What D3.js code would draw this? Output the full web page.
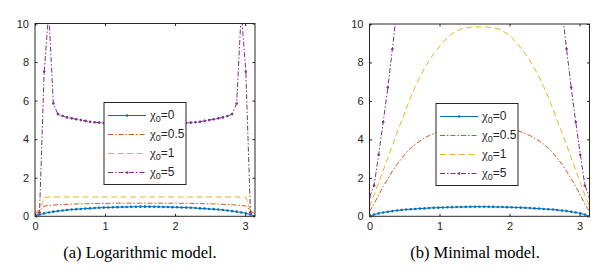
<!DOCTYPE html>
<html>
<head>
<meta charset="utf-8">
<script src="https://cdn.jsdelivr.net/npm/d3@7"></script>
<style>
  body { margin: 0; background: #fff; }
  svg { display: block; }
</style>
</head>
<body>
<div id="chart"></div>
<script>
// sample points along x (0..pi)
const theta = [0, 0.065, 0.131, 0.196, 0.262, 0.327, 0.393, 0.458, 0.524, 0.589,
  0.654, 0.720, 0.785, 0.851, 0.916, 0.982, 1.047, 1.113, 1.178, 1.244,
  1.309, 1.374, 1.440, 1.505, 1.571, 1.636, 1.702, 1.767, 1.833, 1.898,
  1.963, 2.029, 2.094, 2.160, 2.225, 2.291, 2.356, 2.422, 2.487, 2.553,
  2.618, 2.683, 2.749, 2.814, 2.880, 2.945, 3.011, 3.076, 3.142];

const legendLabels = ["0", "0.5", "1", "5"];
const xTicks = [0, 1, 2, 3];
const yTicks = [0, 2, 4, 6, 8, 10];
const captions = ["(a) Logarithmic model.", "(b) Minimal model."];

// chi0 = 0 (same in both models)
const zeroCase = [0, 0.09, 0.15, 0.2, 0.24, 0.27, 0.3, 0.33, 0.35, 0.37,
  0.38, 0.40, 0.41, 0.43, 0.44, 0.45, 0.46, 0.47, 0.475, 0.48,
  0.485, 0.49, 0.495, 0.5, 0.5, 0.5, 0.495, 0.49, 0.485, 0.48,
  0.475, 0.47, 0.46, 0.45, 0.44, 0.43, 0.41, 0.40, 0.38, 0.37,
  0.35, 0.33, 0.3, 0.27, 0.24, 0.2, 0.15, 0.09, 0];

// logarithmic model
const logHalf = [0.12, 0.3, 0.53, 0.56, 0.58, 0.6, 0.61, 0.62, 0.63, 0.64,
  0.65, 0.65, 0.66, 0.66, 0.67, 0.67, 0.67, 0.68, 0.68, 0.68,
  0.68, 0.68, 0.68, 0.68, 0.68, 0.68, 0.68, 0.68, 0.68, 0.68,
  0.68, 0.68, 0.67, 0.67, 0.67, 0.66, 0.66, 0.65, 0.65, 0.64,
  0.63, 0.62, 0.61, 0.6, 0.58, 0.56, 0.53, 0.3, 0.12];
const logOne = [0.25, 0.3, 0.98, 0.99, 1, 1, 1, 1, 1, 1,
  1, 1, 1, 1, 1, 1, 1, 1, 1, 1,
  1, 1, 1, 1, 1, 1, 1, 1, 1, 1,
  1, 1, 1, 1, 1, 1, 1, 1, 1, 1,
  1, 1, 1, 1, 1, 0.99, 0.98, 0.3, 0.27];
const logFive = [0, 0.2, 7.5, 10.6, 5.85, 5.3, 5.2, 5.13, 5.08, 5.03,
  4.99, 4.95, 4.9, 4.88, 4.86, 4.84, 4.82, 4.8, 4.79, 4.78,
  4.77, 4.76, 4.76, 4.75, 4.75, 4.75, 4.76, 4.76, 4.77, 4.78,
  4.79, 4.8, 4.82, 4.84, 4.86, 4.88, 4.9, 4.95, 4.99, 5.03,
  5.08, 5.13, 5.2, 5.3, 5.85, 10.6, 7.5, 0.2, 0];

// minimal model
const minHalf = [0.25, 0.65, 1.1, 1.55, 1.95, 2.35, 2.7, 3.0, 3.3, 3.55,
  3.75, 3.92, 4.07, 4.2, 4.3, 4.4, 4.48, 4.55, 4.6, 4.64,
  4.67, 4.7, 4.72, 4.73, 4.73, 4.73, 4.72, 4.7, 4.67, 4.64,
  4.6, 4.55, 4.48, 4.4, 4.3, 4.2, 4.07, 3.92, 3.75, 3.55,
  3.3, 3.0, 2.7, 2.35, 1.95, 1.55, 1.1, 0.65, 0.25];
const minOne = [0.5, 1.1, 1.75, 2.4, 3.05, 3.7, 4.35, 4.95, 5.6, 6.2,
  6.75, 7.25, 7.7, 8.1, 8.45, 8.75, 9.05, 9.3, 9.5, 9.65,
  9.75, 9.8, 9.83, 9.85, 9.85, 9.85, 9.83, 9.8, 9.75, 9.65,
  9.5, 9.3, 9.05, 8.75, 8.45, 8.1, 7.7, 7.25, 6.75, 6.2,
  5.6, 4.95, 4.35, 3.7, 3.05, 2.4, 1.75, 1.1, 0.5];
// off-scale samples (above 10) are left out
const minFive = [1.0, 1.6, 3.2, 4.9, 6.7, 8.7, 10.8, null, null, null,
  null, null, null, null, null, null, null, null, null, null,
  null, null, null, null, null, null, null, null, null, null,
  null, null, null, null, null, null, null, null, null, null,
  null, null, 10.8, 8.7, 6.7, 4.9, 3.2, 1.6, 1.0];

const colors = ["#0072BD", "#D95319", "#EDB120", "#7E2F8E"];
const dashes = [null, "5,2,1.5,2", "6,3.5", "5,2,1.5,2"];
const markers = [true, false, false, true];

const panels = [
  {left: 35, top: 23.5, series: [zeroCase, logHalf, logOne, logFive], legendX: 104, legendY: 102.5, caption: captions[0], capX: 140},
  {left: 369.5, top: 24, series: [zeroCase, minHalf, minOne, minFive], legendX: 436, legendY: 103.5, caption: captions[1], capX: 475}
];

const W = 616, H = 278, pw = 220, bottom = 216.3;

const svg = d3.select("#chart").append("svg")
  .attr("width", W).attr("height", H);

panels.forEach(function (p, pi) {
  const ph = bottom - p.top;
  const x = d3.scaleLinear().domain([0, Math.PI]).range([0, pw]);
  const y = d3.scaleLinear().domain([0, 10]).range([ph, 0]);

  const g = svg.append("g").attr("transform", "translate(" + p.left + "," + p.top + ")");

  g.append("clipPath").attr("id", "clip" + pi)
    .append("rect").attr("x", 0).attr("y", 0).attr("width", pw).attr("height", ph);

  // axes (ticks inside, on all four sides)
  const axisStyle = function (sel) {
    sel.select(".domain").remove();
    sel.selectAll(".tick line").attr("stroke", "#262626");
    sel.selectAll(".tick text").attr("fill", "#262626")
      .style("font-family", "'Liberation Sans', Arial, sans-serif").style("font-size", "11px");
  };
  g.append("g").attr("transform", "translate(0," + ph + ")")
    .call(d3.axisBottom(x).tickValues(xTicks).tickSizeInner(-2.5).tickPadding(6).tickFormat(d3.format("d")))
    .call(axisStyle);
  g.append("g")
    .call(d3.axisLeft(y).tickValues(yTicks).tickSizeInner(-2.5).tickPadding(6).tickFormat(d3.format("d")))
    .call(axisStyle);
  g.append("g")
    .call(d3.axisTop(x).tickValues(xTicks).tickSizeInner(-2.5).tickFormat(""))
    .call(axisStyle);
  g.append("g").attr("transform", "translate(" + pw + ",0)")
    .call(d3.axisRight(y).tickValues(yTicks).tickSizeInner(-2.5).tickFormat(""))
    .call(axisStyle);

  const plot = g.append("g").attr("clip-path", "url(#clip" + pi + ")");

  const line = d3.line()
    .defined(function (d) { return d[1] !== null; })
    .x(function (d) { return x(d[0]); })
    .y(function (d) { return y(d[1]); });

  p.series.forEach(function (vals, si) {
    const pts = theta.map(function (t, i) { return [t, vals[i]]; });
    plot.append("path")
      .datum(pts)
      .attr("fill", "none")
      .attr("stroke", colors[si])
      .attr("stroke-width", 1)
      .attr("stroke-dasharray", dashes[si])
      .attr("d", line);
    if (markers[si]) {
      plot.selectAll(".m" + si)
        .data(pts.filter(function (d) { return d[1] !== null; }))
        .enter().append("circle")
        .attr("class", "m" + si)
        .attr("cx", function (d) { return x(d[0]); })
        .attr("cy", function (d) { return y(d[1]); })
        .attr("r", 1.3)
        .attr("fill", colors[si]);
    }
  });

  // box
  g.append("rect")
    .attr("width", pw).attr("height", ph)
    .attr("fill", "none").attr("stroke", "#262626").attr("stroke-width", 1);

  // legend
  const lg = svg.append("g").attr("transform", "translate(" + p.legendX + "," + p.legendY + ")");
  lg.append("rect")
    .attr("width", 82).attr("height", 82)
    .attr("fill", "#fff").attr("stroke", "#262626").attr("stroke-width", 1);
  legendLabels.forEach(function (lab, si) {
    const ry = 13 + si * 19;
    lg.append("line")
      .attr("x1", 4).attr("x2", 42).attr("y1", ry).attr("y2", ry)
      .attr("stroke", colors[si]).attr("stroke-width", 1)
      .attr("stroke-dasharray", dashes[si]);
    if (markers[si]) {
      lg.append("circle").attr("cx", 23).attr("cy", ry).attr("r", 1.3).attr("fill", colors[si]);
    }
    const t = lg.append("text")
      .attr("x", 46).attr("y", ry + 3)
      .attr("fill", "#262626")
      .style("font-family", "'Liberation Sans', Arial, sans-serif")
      .style("font-size", "12px");
    t.append("tspan").style("font-family", "'Liberation Serif', serif").style("font-size", "13px").text("χ");
    t.append("tspan").attr("dy", 3.5).style("font-size", "9px").text("0");
    t.append("tspan").attr("dy", -3.5).text("=" + lab);
  });

  svg.append("text")
    .attr("x", p.capX).attr("y", 258)
    .attr("text-anchor", "middle")
    .attr("fill", "#000")
    .style("font-family", "'Liberation Serif', 'Times New Roman', serif")
    .style("font-size", "16.5px")
    .text(p.caption);
});
</script>
</body>
</html>
